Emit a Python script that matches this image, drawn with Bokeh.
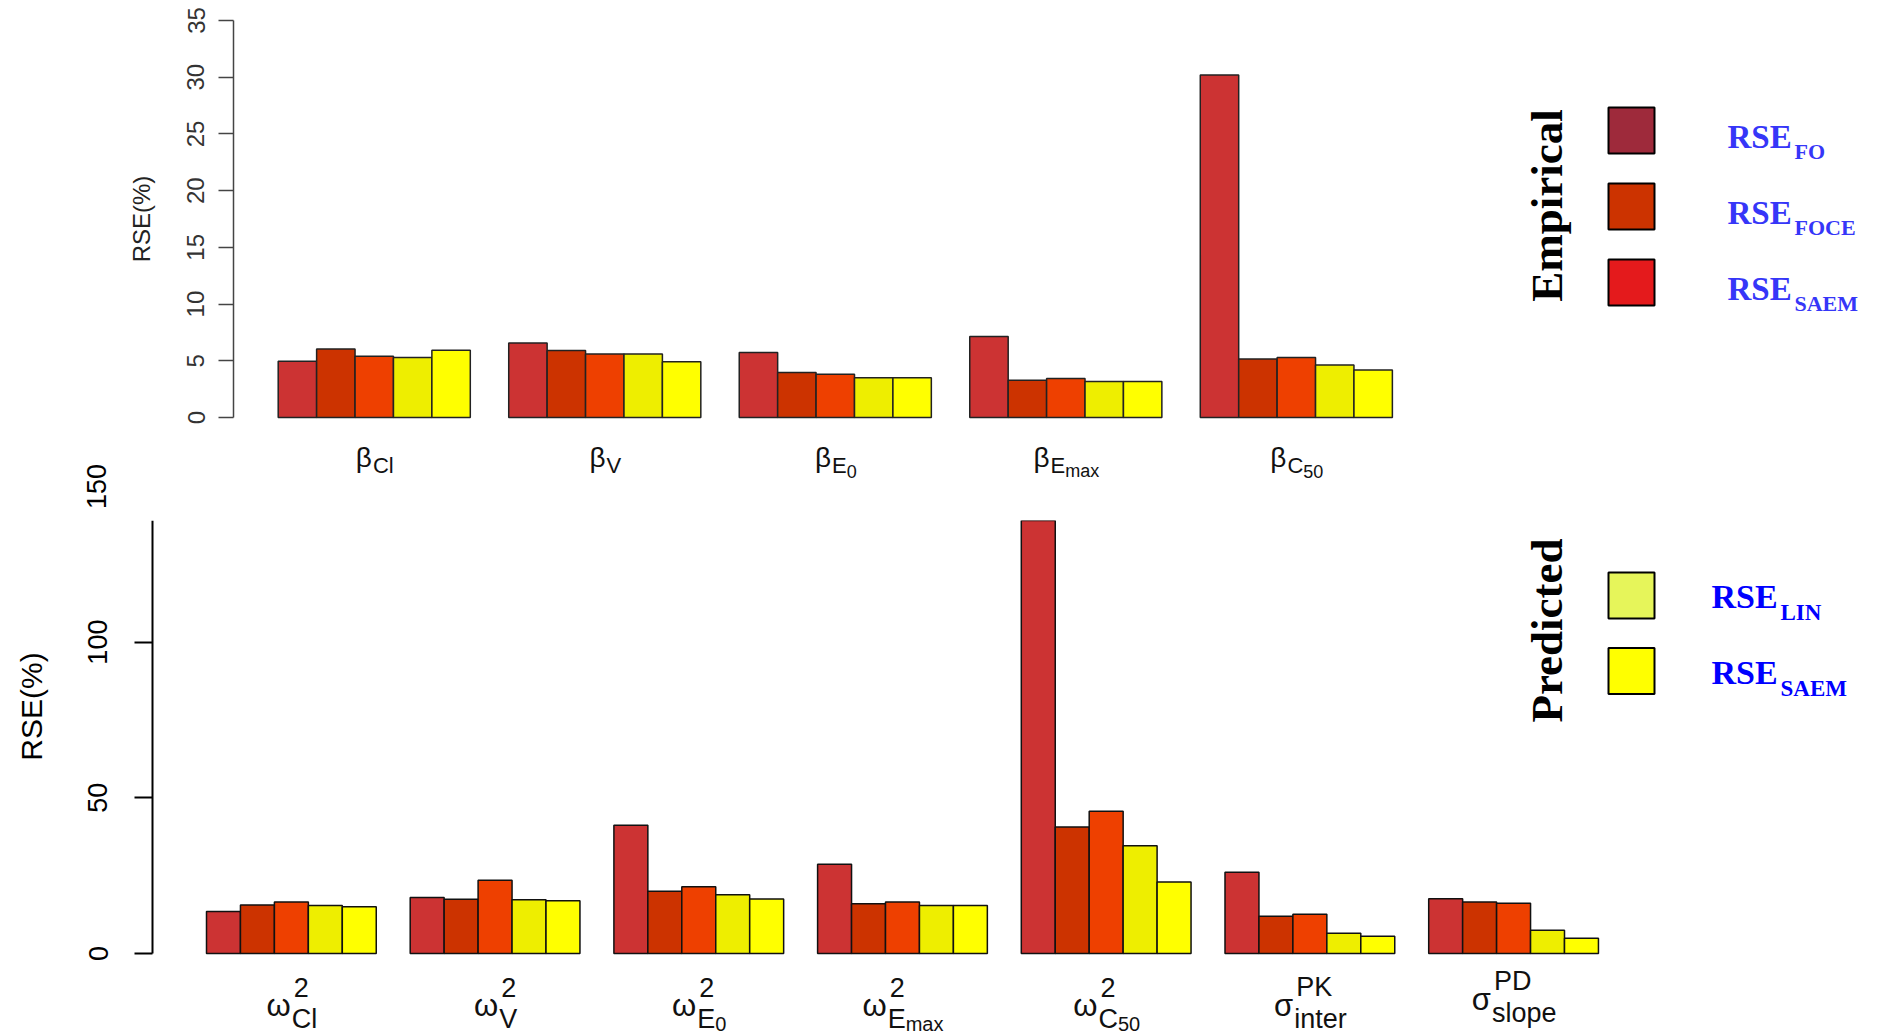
from math import pi
from bokeh.plotting import figure
from bokeh.models import ColumnDataSource, Range1d, FixedTicker, Label
from bokeh.layouts import column
from bokeh.embed import file_html
from bokeh.resources import INLINE

# ---------------- data ----------------
method_names = ["RSE_FO", "RSE_FOCE", "RSE_SAEM", "RSE_LIN", "RSE_SAEM_pred"]
bar_colors = ["#CC3333", "#CC3300", "#EE4000", "#EEEE00", "#FFFF00"]

top_main = "β"
top_sub = ["Cl", "V", "E", "E", "C"]
top_subsub = ["", "", "0", "max", "50"]
top_fo = [4.95, 6.57, 5.74, 7.15, 30.2]
top_foce = [6.05, 5.91, 3.97, 3.29, 5.15]
top_saem = [5.40, 5.59, 3.82, 3.44, 5.29]
top_lin = [5.28, 5.59, 3.50, 3.18, 4.62]
top_saem_pred = [5.93, 4.92, 3.50, 3.18, 4.18]
top_yticks = [0, 5, 10, 15, 20, 25, 30, 35]

bot_main = ["ω", "ω", "ω", "ω", "ω", "σ", "σ"]
bot_sup = ["2", "2", "2", "2", "2", "PK", "PD"]
bot_sub = ["Cl", "V", "E", "E", "C", "inter", "slope"]
bot_subsub = ["", "", "0", "max", "50", "", ""]
bot_fo = [13.5, 18.0, 41.2, 28.7, 145.0, 26.1, 17.6]
bot_foce = [15.6, 17.4, 20.0, 16.0, 40.6, 12.0, 16.5]
bot_saem = [16.5, 23.5, 21.4, 16.5, 45.7, 12.6, 16.1]
bot_lin = [15.4, 17.3, 18.9, 15.4, 34.6, 6.5, 7.5]
bot_saem_pred = [15.0, 16.9, 17.5, 15.4, 23.0, 5.5, 4.9]
bot_yticks = [0, 50, 100, 150]

legend_emp_labels = [("RSE", "FO"), ("RSE", "FOCE"), ("RSE", "SAEM")]
legend_emp_colors = ["#9E2A3B", "#CC3300", "#E41A1C"]
legend_pred_labels = [("RSE", "LIN"), ("RSE", "SAEM")]
legend_pred_colors = ["#E6F55A", "#FFFF00"]

# ---------------- layout constants (page pixels) ----------------
W = 1877
TOP_H = 520                 # top canvas covers page rows 0..520
BOT_H = 1035 - TOP_H        # bottom canvas covers 520..1035
T_AXIS_X, T_Y35, T_Y0 = 233, 20, 417
T_XUNIT, T_X1PX = 38.42, 277.7
B_AXIS_X, B_Y0 = 152, 953
B_XUNIT, B_X1PX = 33.95, 206.0
B_YUNIT = 3.114
SANS = "Liberation Sans"
SERIF = "Liberation Serif"
MID = 0.34                  # baseline -> middle of text box, in em

ARIAL_W = {"C": .722, "l": .222, "V": .667, "E": .667, "0": .556, "5": .556,
           "m": .833, "a": .556, "x": .5, "i": .222, "n": .556, "t": .278,
           "e": .556, "r": .333, "s": .5, "o": .556, "p": .556, "P": .667,
           "K": .667, "D": .722, "2": .556, "β": .574, "ω": .78, "σ": .62}


def tw(s, size):
    return sum(ARIAL_W.get(c, .556) for c in s) * size


t_yunit = (T_Y0 - T_Y35) / top_yticks[-1]


def t_x(px):
    return 1 + (px - T_X1PX) / T_XUNIT


def t_y(py):
    return (T_Y0 - py) / t_yunit


def b_x(px):
    return 1 + (px - B_X1PX) / B_XUNIT


def b_y(py):
    return (B_Y0 - py) / B_YUNIT


def bar_source(series_list, ngroups):
    xs, tops, cols = [], [], []
    for m, series in enumerate(series_list):
        for g in range(ngroups):
            xs.append(6 * g + 1.5 + m)
            tops.append(series[g])
            cols.append(bar_colors[m])
    return ColumnDataSource(dict(x=xs, top=tops, color=cols))


def make_fig(h, xr, yr):
    p = figure(width=W, height=h, x_range=xr, y_range=yr,
               min_border_left=0, min_border_right=0,
               min_border_top=0, min_border_bottom=0,
               x_axis_location=None, toolbar_location=None,
               output_backend="svg", outline_line_color=None,
               background_fill_color="white", border_fill_color="white")
    p.grid.visible = False
    return p


def lab(p, x, y, text, size, font=SANS, color="#111111", x_offset=0, angle=0,
        align="left", style="normal"):
    p.add_layout(Label(x=x, y=y, x_offset=x_offset, text=text, angle=angle,
                       text_font=font, text_font_size=f"{size}px", text_font_style=style,
                       text_align=align, text_baseline="middle", text_color=color))


# ---------------- top chart ----------------
pt = make_fig(TOP_H, Range1d(t_x(0), t_x(W)), Range1d(t_y(TOP_H), t_y(0)))
src_t = bar_source([top_fo, top_foce, top_saem, top_lin, top_saem_pred], len(top_sub))
pt.vbar(x="x", top="top", bottom=0, width=1, source=src_t,
        fill_color="color", line_color="#222222", line_width=1.5)
ya = pt.yaxis[0]
ya.fixed_location = t_x(T_AXIS_X)
ya.bounds = (top_yticks[0], top_yticks[-1])
ya.ticker = FixedTicker(ticks=top_yticks)
ya.minor_tick_line_color = None
ya.major_tick_out = 15
ya.major_tick_in = 0
ya.axis_line_color = "#444444"
ya.major_tick_line_color = "#444444"
ya.axis_line_width = 1.5
ya.major_tick_line_width = 1.5
ya.major_label_orientation = "vertical"
ya.major_label_text_font = SANS
ya.major_label_text_font_size = "24px"
ya.major_label_text_color = "#333333"
ya.major_label_standoff = 14
ya.axis_label = "RSE(%)"
ya.axis_label_text_font = SANS
ya.axis_label_text_font_size = "24px"
ya.axis_label_text_font_style = "normal"
ya.axis_label_text_color = "#222222"
ya.axis_label_standoff = 30

# category labels of the top chart (β with subscripts)
FM, FS, FSS = 28, 22, 18
for g in range(len(top_sub)):
    cx = 6 * g + 3.5
    w_main = tw(top_main, FM)
    w_sub = tw(top_sub[g], FS) + tw(top_subsub[g], FSS)
    left = -(w_main + w_sub) / 2
    lab(pt, cx, t_y(467 - MID * FM), top_main, FM, x_offset=left)
    lab(pt, cx, t_y(472 - MID * FS), top_sub[g], FS, x_offset=left + w_main + 1)
    if top_subsub[g]:
        lab(pt, cx, t_y(477 - MID * FSS), top_subsub[g], FSS,
            x_offset=left + w_main + 1 + tw(top_sub[g], FS))

# empirical legend
lab(pt, t_x(1562 - MID * 45), t_y(205), "Empirical", 45, font=SERIF, color="black",
    angle=pi / 2, align="center", style="bold")
for i, (col, (main, sub)) in enumerate(zip(legend_emp_colors, legend_emp_labels)):
    cy = 130 + 76 * i
    pt.rect(x=[t_x(1631)], y=[t_y(cy)], width=46, height=46,
            width_units="screen", height_units="screen",
            fill_color=col, line_color="black", line_width=2)
    lab(pt, t_x(1727), t_y(cy + 18 - MID * 33), main, 33, font=SERIF,
        color="#3636F8", style="bold")
    lab(pt, t_x(1794), t_y(cy + 28 - MID * 22), sub, 22, font=SERIF,
        color="#3636F8", style="bold")

# the "150" tick label of the lower axis sits above the lower frame
lab(pt, t_x(96), t_y(B_Y0 - bot_yticks[-1] * B_YUNIT), str(bot_yticks[-1]), 27,
    color="black", angle=pi / 2, align="center")

# ---------------- bottom chart ----------------
pb = make_fig(BOT_H, Range1d(b_x(0), b_x(W)), Range1d(b_y(1035), b_y(TOP_H)))
src_b = bar_source([bot_fo, bot_foce, bot_saem, bot_lin, bot_saem_pred], len(bot_sub))
pb.vbar(x="x", top="top", bottom=0, width=1, source=src_b,
        fill_color="color", line_color="#111111", line_width=1.5)
yb = pb.yaxis[0]
yb.fixed_location = b_x(B_AXIS_X)
yb.bounds = (0, b_y(TOP_H))
yb.ticker = FixedTicker(ticks=bot_yticks[:-1])
yb.minor_tick_line_color = None
yb.major_tick_out = 18
yb.major_tick_in = 0
yb.axis_line_color = "black"
yb.major_tick_line_color = "black"
yb.axis_line_width = 2
yb.major_tick_line_width = 2
yb.major_label_orientation = "vertical"
yb.major_label_text_font = SANS
yb.major_label_text_font_size = "27px"
yb.major_label_text_color = "black"
yb.major_label_standoff = 27

lab(pb, b_x(31), b_y(706), "RSE(%)", 30, color="black", angle=pi / 2, align="center")

GM, GSUP, GSUB, GSS = 31, 27, 27, 20
for g in range(len(bot_sub)):
    cx = 6 * g + 3.5
    shift = 6 if any(c in "gjpqy" for c in bot_sub[g]) else 0
    w_main = tw(bot_main[g], GM)
    w_scr = max(tw(bot_sup[g], GSUP), tw(bot_sub[g], GSUB) + tw(bot_subsub[g], GSS))
    left = -(w_main + w_scr) / 2
    lab(pb, cx, b_y(1016 - shift - MID * GM), bot_main[g], GM, x_offset=left)
    lab(pb, cx, b_y(996 - shift - MID * GSUP), bot_sup[g], GSUP, x_offset=left + w_main + 3)
    lab(pb, cx, b_y(1028 - shift - MID * GSUB), bot_sub[g], GSUB, x_offset=left + w_main + 1)
    if bot_subsub[g]:
        lab(pb, cx, b_y(1030 - shift - MID * GSS), bot_subsub[g], GSS,
            x_offset=left + w_main + 1 + tw(bot_sub[g], GSUB))

# predicted legend
lab(pb, b_x(1562 - MID * 45), b_y(630), "Predicted", 45, font=SERIF, color="black",
    angle=pi / 2, align="center", style="bold")
for i, (col, (main, sub)) in enumerate(zip(legend_pred_colors, legend_pred_labels)):
    cy = 595 + 75.5 * i
    pb.rect(x=[b_x(1631)], y=[b_y(cy)], width=46, height=46,
            width_units="screen", height_units="screen",
            fill_color=col, line_color="black", line_width=2)
    lab(pb, b_x(1711), b_y(cy + 13 - MID * 34), main, 34, font=SERIF,
        color="#0000FF", style="bold")
    lab(pb, b_x(1780), b_y(cy + 25 - MID * 23), sub, 23, font=SERIF,
        color="#0000FF", style="bold")

layout = column(pt, pb, spacing=0)
open("out.html", "w").write(file_html(layout, INLINE))
